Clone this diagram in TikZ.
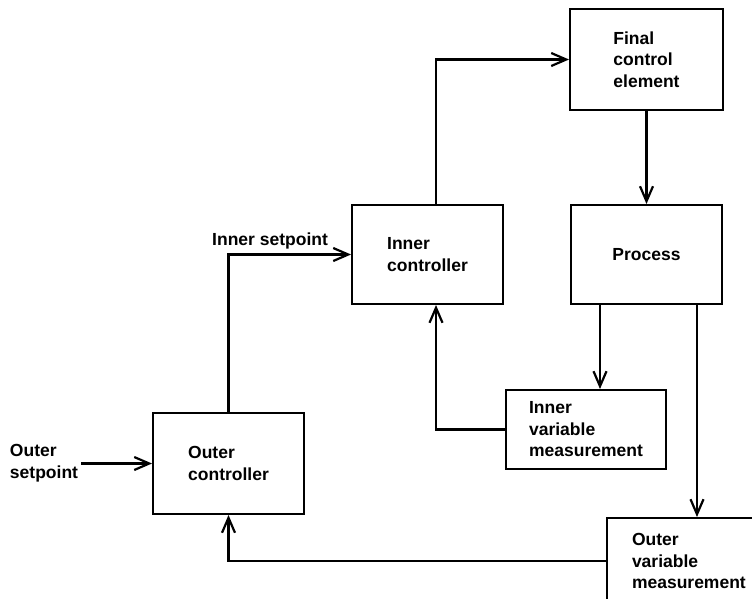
\documentclass[tikz,border=0pt]{standalone}
\usepackage{fontspec}
\setmainfont{Liberation Sans}
\usetikzlibrary{arrows.meta, positioning, calc}

\begin{document}
\begin{tikzpicture}[x=1pt, y=-1pt,
    block/.style={rectangle, draw, line width=2pt, align=left, inner sep=4pt,
      font=\bfseries\fontsize{17.5}{21.5}\selectfont},
    lbl/.style={align=left, inner sep=3pt, font=\bfseries\fontsize{17.5}{21.5}\selectfont},
    arr/.style={-{Straight Barb[length=15pt, width=13pt]}, line width=2.2pt}]

  \clip (0,0) rectangle (752,598);

  % Blocks
  \node[block, minimum width=153pt, minimum height=101pt] (fce) at (646.5, 59.5) {Final\\control\\element};
  \node[block, minimum width=151pt, minimum height=99pt] (proc) at (646.5, 254.5) {Process};
  \node[block, minimum width=151pt, minimum height=99pt] (inctl) at (427.5, 254.5) {Inner\\controller};
  \node[block, minimum width=160pt, minimum height=79pt] (innermeas) at (586, 429.5) {Inner\\variable\\measurement};
  \node[block, minimum width=151pt, minimum height=101pt] (outctl) at (228.5, 463.5) {Outer\\controller};
  \node[block, anchor=north west, minimum width=170pt, minimum height=86pt,
    text width=130pt, inner xsep=25pt] (outmeas) at (606, 517) {Outer\\variable\\measurement};

  % Labels
  \node[lbl] (osp) at (44, 463) {Outer\\setpoint};
  \node[lbl, anchor=base west, inner sep=0pt] (isp) at (212, 245) {Inner setpoint};

  % Helper points on the block edges
  \coordinate (ictop) at ([xshift=8.5pt]inctl.north);
  \coordinate (icbot) at ([xshift=8.5pt]inctl.south);
  \coordinate (prleft) at ([xshift=-46.5pt]proc.south);
  \coordinate (prright) at ([xshift=50.5pt]proc.south);

  % Forward path
  \draw[arr] (osp.east |- outctl.west) -- (outctl.west);
  \draw[arr] (outctl.north) |- (inctl.west);
  \draw[arr] (ictop) |- (fce.west);
  \draw[arr] (fce.south) -- (proc.north);

  % Measurements
  \draw[arr] (prleft) -- (prleft |- innermeas.north);
  \draw[arr] (prright) -- (prright |- outmeas.north);

  % Feedback
  \draw[arr] (innermeas.west) -| (icbot);
  \draw[arr] (outmeas.west) -| (outctl.south);
\end{tikzpicture}
\end{document}
